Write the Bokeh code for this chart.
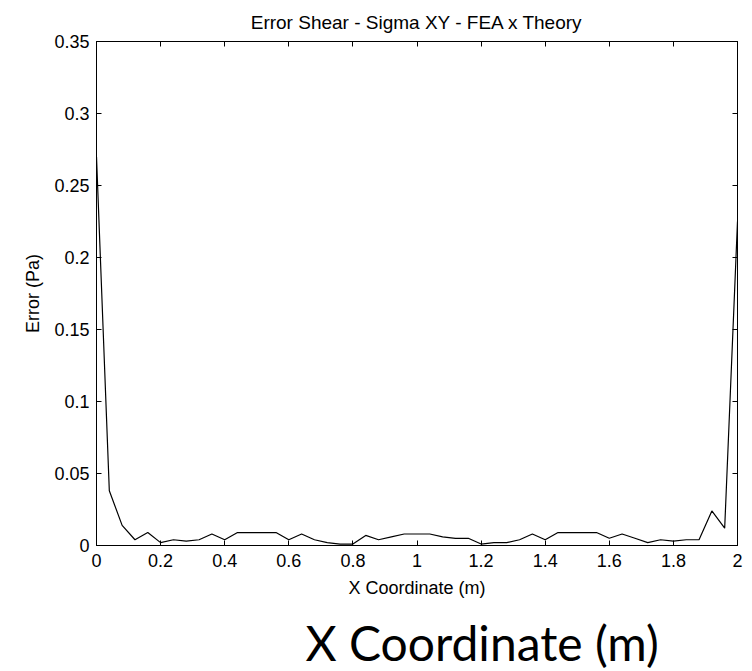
from bokeh.plotting import figure
from bokeh.models import Range1d, LinearAxis, FixedTicker, Title
from bokeh.embed import file_html
from bokeh.resources import INLINE

# ---- data ----
x_coord = [0.00, 0.04, 0.08, 0.12, 0.16, 0.20, 0.24, 0.28, 0.32, 0.36,
           0.40, 0.44, 0.48, 0.52, 0.56, 0.60, 0.64, 0.68, 0.72, 0.76,
           0.80, 0.84, 0.88, 0.92, 0.96, 1.00, 1.04, 1.08, 1.12, 1.16,
           1.20, 1.24, 1.28, 1.32, 1.36, 1.40, 1.44, 1.48, 1.52, 1.56,
           1.60, 1.64, 1.68, 1.72, 1.76, 1.80, 1.84, 1.88, 1.92, 1.96,
           2.00]
error_pa = [0.270, 0.038, 0.014, 0.004, 0.009, 0.002, 0.004, 0.003, 0.004, 0.008,
            0.004, 0.009, 0.009, 0.009, 0.009, 0.004, 0.008, 0.004, 0.002, 0.001,
            0.001, 0.007, 0.004, 0.006, 0.008, 0.008, 0.008, 0.006, 0.005, 0.005,
            0.001, 0.002, 0.002, 0.004, 0.008, 0.004, 0.009, 0.009, 0.009, 0.009,
            0.005, 0.008, 0.005, 0.002, 0.004, 0.003, 0.004, 0.004, 0.024, 0.012,
            0.225]

x_ticks = [0, 0.2, 0.4, 0.6, 0.8, 1.0, 1.2, 1.4, 1.6, 1.8, 2.0]
x_tick_labels = ["0", "0.2", "0.4", "0.6", "0.8", "1", "1.2", "1.4", "1.6", "1.8", "2"]
y_ticks = [0, 0.05, 0.1, 0.15, 0.2, 0.25, 0.3, 0.35]
y_tick_labels = ["0", "0.05", "0.1", "0.15", "0.2", "0.25", "0.3", "0.35"]

title_text = "Error Shear - Sigma XY - FEA x Theory"
x_label = "X Coordinate (m)"
y_label = "Error (Pa)"
caption = "X Coordinate (m)"

FONT = "Liberation Sans"
FS = "18px"

p = figure(width=752, height=671, output_backend="svg", toolbar_location=None,
           x_range=Range1d(0, 2), y_range=Range1d(0, 0.35),
           min_border_left=96, min_border_right=15, min_border_top=41,
           min_border_bottom=126, title=title_text)

p.background_fill_color = "white"
p.border_fill_color = "white"
p.outline_line_color = "black"
p.outline_line_width = 1
p.grid.visible = False

p.title.text_font = FONT
p.title.text_font_size = "19px"
p.title.text_font_style = "normal"
p.title.align = "center"
p.title.text_color = "black"
p.title.standoff = 18

p.line(x_coord, error_pa, line_color="black", line_width=1.2)

def style(ax, ticks, labels, show_labels=True):
    ax.ticker = FixedTicker(ticks=ticks)
    ax.major_label_overrides = {t: l for t, l in zip(ticks, labels)}
    ax.major_tick_in = 5
    ax.major_tick_out = 0
    ax.minor_tick_in = 0
    ax.minor_tick_out = 0
    ax.axis_line_color = "black"
    ax.major_tick_line_color = "black"
    ax.major_label_text_font = FONT
    ax.major_label_text_font_size = FS if show_labels else "0px"
    ax.major_label_text_color = "black"
    ax.axis_label_text_font = FONT
    ax.axis_label_text_font_size = FS
    ax.axis_label_text_font_style = "normal"
    ax.axis_label_text_color = "black"

style(p.xaxis[0], x_ticks, x_tick_labels)
p.xaxis[0].axis_label = x_label
p.xaxis[0].major_label_standoff = 8
p.xaxis[0].axis_label_standoff = 8

style(p.yaxis[0], y_ticks, y_tick_labels)
p.yaxis[0].axis_label = y_label
p.yaxis[0].major_label_standoff = 7
p.yaxis[0].axis_label_standoff = 8

top_ax = LinearAxis()
style(top_ax, x_ticks, ["" for _ in x_ticks], show_labels=False)
top_ax.major_label_standoff = 0
p.add_layout(top_ax, "above")

right_ax = LinearAxis()
style(right_ax, y_ticks, ["" for _ in y_ticks], show_labels=False)
right_ax.major_label_standoff = 0
p.add_layout(right_ax, "right")

# invisible spacer between the x axis and the large caption
spacer = LinearAxis(ticker=FixedTicker(ticks=[]), axis_line_color=None,
                    major_tick_line_color=None, minor_tick_line_color=None,
                    major_tick_in=0, major_tick_out=0, minor_tick_in=0, minor_tick_out=0,
                    major_label_text_font_size="0px", major_label_standoff=0,
                    axis_label=" ", axis_label_text_font_size="1px",
                    axis_label_standoff=7)
p.add_layout(spacer, "below")

cap = Title(text=caption, align="left", offset=209, standoff=0,
            vertical_align="bottom", text_font="Lato",
            text_font_size="48px", text_font_style="normal", text_color="black")
p.add_layout(cap, "below")

open("out.html", "w").write(file_html(p, INLINE))
